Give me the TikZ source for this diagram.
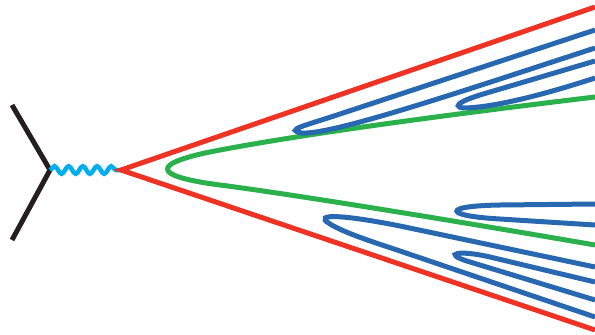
\documentclass[tikz,border=0pt]{standalone}
\usepackage{tikz}
\definecolor{legblack}{RGB}{35, 31, 32}
\definecolor{photoncyan}{RGB}{0, 174, 239}
\definecolor{conered}{RGB}{238, 50, 36}
\definecolor{splitgreen}{RGB}{43, 177, 76}
\definecolor{foldblue}{RGB}{40, 104, 176}
\usetikzlibrary{calc, decorations.pathmorphing}

\begin{document}
\begin{tikzpicture}[x=1pt, y=-1pt,
        leg/.style={line width=5pt, draw=legblack},
        photon/.style={line width=4.5pt, draw=photoncyan, decorate,
            decoration={snake, segment length=14.2pt, amplitude=3.8pt}},
        cone/.style={line width=5pt, draw=conered},
        split/.style={line width=5pt, draw=splitgreen},
        fold/.style={line width=5pt, draw=foldblue}]
        \useasboundingbox (0,0) rectangle (595,335);

        % vertex and the point where the cone opens
        \coordinate (vtx) at (50,170);
        \coordinate (apex) at (121,170);
        \coordinate (inA) at (12,105);
        \coordinate (inB) at (12,240);
        \coordinate (coneT) at (595,7);
        \coordinate (coneB) at (595,330);

        \draw[leg] (inA) -- (vtx) -- (inB);
        \draw[photon] (vtx) -- (apex);
        \draw[cone] (coneT) -- (apex) -- (coneB);

        % green fold
        \draw[split] (595,97) .. controls (420,118) and (300,135) .. (220,150)
            .. controls (150,163) and (150,176) .. (220,185)
            .. controls (290,194) and (450,220) .. (595,245);

        % upper blue folds
        \draw[fold] (595,30) -- (340,114) .. controls (304,126) and (284,130) .. (302,133)
            .. controls (332,135) and (460,92) .. (595,48);
        \draw[fold] (595,61) -- (490,92) .. controls (465,99) and (450,106) .. (463,108)
            .. controls (490,108) and (540,96) .. (595,78);

        % lower blue folds
        \draw[fold] (595,204) -- (500,205) .. controls (440,206) and (445,216) .. (500,219)
            -- (595,225);
        \draw[fold] (595,267) -- (400,226) .. controls (350,216) and (310,212) .. (330,224)
            .. controls (345,233) and (370,241) .. (400,251) -- (595,317);
        \draw[fold] (595,282) -- (490,257) .. controls (460,250) and (440,253) .. (470,262)
            -- (595,300);
    \end{tikzpicture}
\end{document}
